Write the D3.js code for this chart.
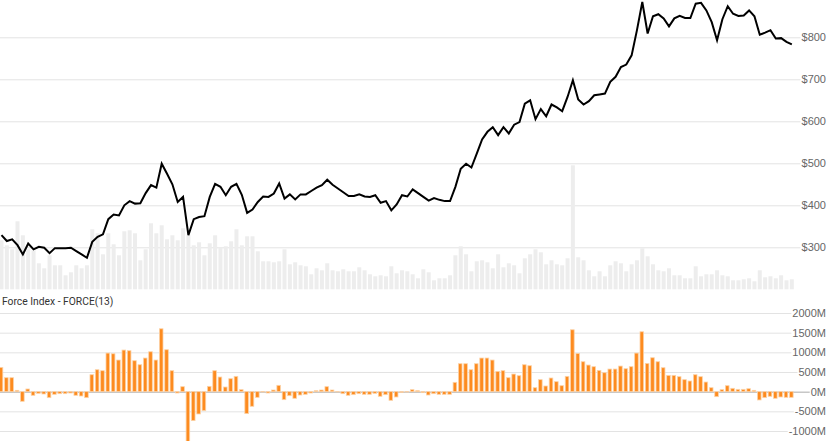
<!DOCTYPE html>
<html><head><meta charset="utf-8">
<script src="https://cdn.jsdelivr.net/npm/d3@7"></script>
<style>html,body{margin:0;padding:0;background:#fff;overflow:hidden}svg{display:block}</style>
</head><body>
<svg id="c" width="827" height="441"></svg>
<script>
// ---- data ----
const closePrice = [329,315,319,305,283,309,295,301,299,286,298,298,298,299,291,283,275,313,325,331,
367,378,376,400,410,404,405,429,448,442,499,475,450,408,420,329,367,372,374,420,
451,444,424,444,451,425,382,390,408,421,420,428,452,416,426,414,426,426,434,442,
448,461,449,440,431,422,422,426,421,420,424,406,410,388,402,424,421,438,429,420,
411,417,413,410,410,444,487,499,490,523,557,575,586,567,586,571,592,598,642,650,
605,629,612,640,633,624,658,698,652,640,648,662,664,666,694,706,729,735,757,817,
884,809,850,855,845,826,845,851,846,846,880,882,864,836,793,843,874,856,851,852,
864,850,806,811,817,797,798,789,783];
const volume = [4.9,4.4,4.0,6.8,5.4,4.0,3.9,2.6,2.1,3.4,2.4,2.4,1.4,1.7,2.4,2.1,2.4,6.0,5.6,3.5,
5.6,4.5,3.4,5.8,5.9,5.6,2.9,4.0,6.6,5.6,6.4,5.0,5.4,4.9,6.1,5.4,4.4,4.7,3.4,4.6,
5.4,4.2,4.3,4.8,6.0,4.4,5.3,5.3,3.8,2.8,2.8,2.7,2.8,4.0,2.5,2.7,2.4,2.3,1.5,2.1,
1.9,2.6,1.9,1.8,2.0,1.8,1.8,2.2,1.9,1.5,1.3,1.4,1.3,2.3,1.6,1.9,1.8,1.5,1.1,2.0,
1.7,0.9,1.1,1.1,1.4,3.4,4.3,3.5,1.8,2.8,2.9,2.7,2.1,3.5,2.2,2.6,2.4,1.6,3.1,3.5,
4.0,3.7,2.5,2.9,2.5,2.4,3.1,12.4,3.2,2.9,1.9,1.3,1.8,1.3,2.4,2.8,2.6,1.8,2.5,2.9,
4.1,3.3,2.5,1.9,1.8,2.1,1.4,1.4,1.1,1.1,2.3,1.3,1.5,1.5,1.9,1.4,1.3,0.9,0.9,1.0,
1.1,0.8,1.9,1.2,1.3,1.1,1.4,0.9,1.0];
const forceIndex = [617,355,355,34,-245,68,-93,-42,-59,-152,-68,-51,-51,-34,-93,-110,-152,431,558,533,
981,964,804,1058,1041,787,685,855,1015,804,1599,1066,533,-34,127,-1400,-736,-567,-482,135,
533,372,118,330,389,51,-558,-372,-144,-8,-34,42,161,-203,-102,-169,-85,-68,-34,25,
42,127,42,-5,-51,-93,-76,-51,-68,-68,-42,-118,-76,-220,-135,-17,-8,51,25,-25,
-85,-51,-68,-68,-68,237,711,711,558,711,855,855,804,516,533,355,448,406,685,660,
101,305,144,347,254,152,389,1574,973,761,677,635,541,482,575,575,651,584,635,981,
1523,719,863,761,609,414,414,381,305,271,431,381,245,101,-127,51,152,85,59,59,
76,34,-211,-152,-118,-169,-135,-144,-144];
const categories = closePrice.map((d, i) => i);
const priceTicks = [300,400,500,600,700,800];
const forceTicks = [-1000,-500,0,500,1000,1500,2000];
const panelTitle = "Force Index - FORCE(13)";

// ---- layout ----
const W = 827, H = 441;
const svg = d3.select("#c");
const x = d3.scalePoint().domain(categories).range([1.5, 1.5 + 5.34 * (categories.length - 1)]);
const yP = d3.scaleLinear().domain([300, 800]).range([247.3, 37.3]);
const yV = d3.scaleLinear().domain([0, 28.93]).range([289.3, 0]);
const yF = d3.scaleLinear().domain([-1000, 2000]).range([431, 313]);
const font = "'Liberation Sans', Arial, sans-serif";

// price panel grid
const gTop = svg.append("g");
const axP = d3.axisRight(yP).tickValues(priceTicks).tickSize(W).tickFormat(d => "$" + d);
gTop.call(axP);
gTop.select(".domain").remove();
gTop.selectAll(".tick line").attr("stroke", "#e3e3e3");
gTop.selectAll(".tick text").attr("x", W - 1).attr("text-anchor", "end")
  .attr("fill", "#666").style("font", "11px " + font);
gTop.selectAll(".tick").each(function () {
  const t = d3.select(this), tx = t.select("text"), bb = tx.node().getBBox();
  t.insert("rect", "text").attr("x", bb.x - 1).attr("y", bb.y).attr("width", bb.width + 2).attr("height", bb.height).attr("fill", "#fff");
});

// volume bars
svg.append("g").selectAll("rect").data(volume).join("rect")
  .attr("x", (d, i) => x(i) - 2).attr("width", 4)
  .attr("y", d => yV(d)).attr("height", d => yV(0) - yV(d))
  .attr("fill", "#ededed");

// price line
svg.append("path").datum(closePrice)
  .attr("fill", "none").attr("stroke", "#000").attr("stroke-width", 2)
  .attr("d", d3.line().x((d, i) => x(i)).y(d => yP(d)));

// force panel
svg.append("text").attr("x", 2).attr("y", 305).text(panelTitle)
  .attr("fill", "#333").style("font", "10.3px Roboto, 'Liberation Sans', sans-serif");
const gF = svg.append("g");
const axF = d3.axisRight(yF).tickValues(forceTicks).tickSize(W).tickFormat(d => d + "M");
gF.call(axF);
gF.select(".domain").remove();
gF.selectAll(".tick line").attr("stroke", d => d === 0 ? "#aaa" : "#e3e3e3");
gF.selectAll(".tick text").attr("x", W - 1).attr("text-anchor", "end")
  .attr("fill", "#666").style("font", "11px " + font);
gF.selectAll(".tick").each(function () {
  const t = d3.select(this), tx = t.select("text"), bb = tx.node().getBBox();
  t.insert("rect", "text").attr("x", bb.x - 1).attr("y", bb.y).attr("width", bb.width + 2).attr("height", bb.height).attr("fill", "#fff");
});
svg.append("g").selectAll("rect").data(forceIndex).join("rect")
  .attr("x", (d, i) => x(i) - 2.3).attr("width", 3.6)
  .attr("y", d => Math.min(yF(d), yF(0))).attr("height", d => Math.abs(yF(d) - yF(0)))
  .attr("fill", "#fd8b1f").attr("stroke", "#fcd3a8").attr("stroke-width", 0.8);
</script>
</body></html>
